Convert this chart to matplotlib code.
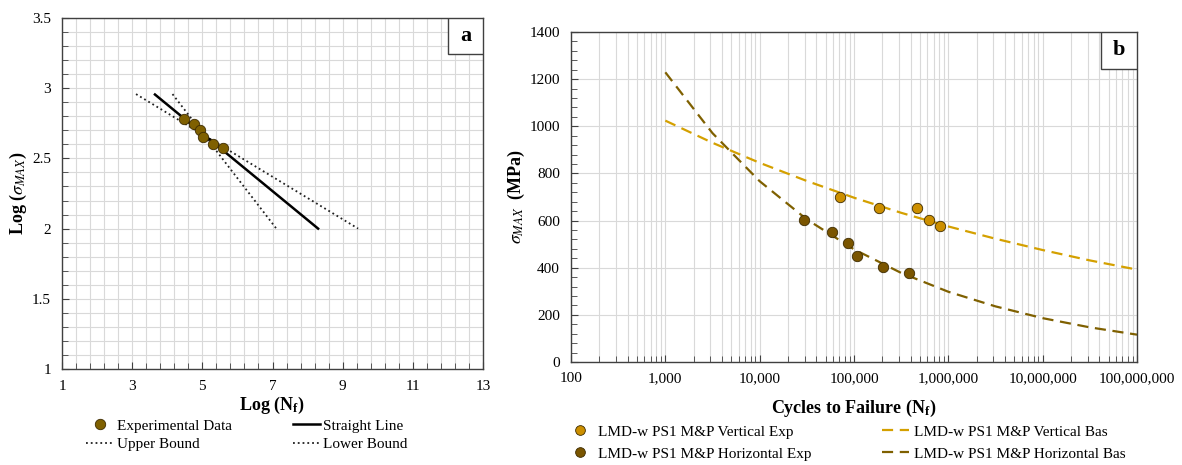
import matplotlib as mpl
mpl.use("Agg")
import matplotlib.pyplot as plt
import matplotlib.ticker as ticker
from matplotlib.lines import Line2D
from matplotlib.patches import Rectangle
import numpy as np

mpl.rcParams['font.family'] = 'Liberation Serif'
mpl.rcParams['mathtext.fontset'] = 'stix'
fontsize = 11

# panel a: log-log data and fitted lines
logN_exp = [4.47, 4.76, 4.94, 5.03, 5.30, 5.58]
logS_exp = [2.779, 2.743, 2.702, 2.653, 2.604, 2.576]
straight_x = [3.65, 8.30]
straight_y = [2.955, 2.00]
upper_x = [3.11, 9.44]
upper_y = [2.958, 2.00]
lower_x = [4.15, 7.11]
lower_y = [2.958, 2.00]

# panel b: S-N data
vert_N = [71100, 185000, 469000, 624000, 809000]
vert_S = [701, 652, 652, 601, 578]
horiz_N = [29500, 58000, 86300, 106600, 201000, 383000]
horiz_S = [601, 553, 504, 450, 402, 376]

# Basquin curves read at half-decades
bas_N = [1e3, 3.16e3, 1e4, 3.16e4, 1e5, 3.16e5, 1e6, 3.16e6, 1e7, 3.16e7, 1e8]
bas_vert = [1024, 930, 845, 768, 697, 633, 575, 523, 475, 431, 392]
bas_horiz = [1229, 971, 767, 605, 478, 378, 298, 236, 186, 147, 116]

c_vert = '#CC8F00'
c_vert_line = '#D4A000'
c_horiz = '#7A5500'
c_horiz_line = '#7F6000'
c_edge = '#3D2B00'
c_grid = '#D9D9D9'

fig = plt.figure(figsize=(11.82, 4.65), dpi=100)
W, H = 1182, 465
ax1 = fig.add_axes([62 / W, 1 - 369 / H, (483 - 62) / W, (369 - 18) / H])
ax2 = fig.add_axes([571 / W, 1 - 362 / H, (1137 - 571) / W, (362 - 32) / H])

# ---- panel a ----
ax = ax1
ax.set_xlim(1, 13)
ax.set_ylim(1, 3.5)
ax.set_xticks([1, 3, 5, 7, 9, 11, 13])
ax.set_yticks([1, 1.5, 2, 2.5, 3, 3.5])
ax.yaxis.set_major_formatter(ticker.FuncFormatter(lambda v, p: ('%g' % v)))
ax.xaxis.set_minor_locator(ticker.MultipleLocator(0.4, offset=0.2))
ax.yaxis.set_minor_locator(ticker.MultipleLocator(0.1))
ax.grid(True, which='both', color=c_grid, lw=0.8)
ax.set_axisbelow(True)
ax.tick_params(which='both', direction='in', top=False, right=False, labelsize=fontsize, color='#404040')
ax.tick_params(which='major', length=5)
ax.tick_params(which='minor', length=4)
ax.tick_params(axis='x', which='major', pad=8)
ax.tick_params(axis='y', which='major', pad=8)
for s in ax.spines.values():
    s.set_color('#404040')
    s.set_linewidth(1.0)

ax.plot(upper_x, upper_y, ls=':', color='#202020', lw=1.3, label='Upper Bound')
ax.plot(lower_x, lower_y, ls=':', color='#202020', lw=1.3, label='Lower Bound')
ax.plot(straight_x, straight_y, ls='-', color='black', lw=1.8, label='Straight Line')
ax.plot(logN_exp, logS_exp, 'o', ms=7.5, color=c_horiz_line, mec=c_edge, mew=0.6,
        label='Experimental Data', zorder=5)

ax.set_xlabel(r'Log (N$_\mathregular{f}$)', fontsize=13, fontweight='bold', labelpad=1)
ax.set_ylabel(r'Log ($\sigma_{MAX}$)', fontsize=13, fontweight='bold', labelpad=2)

ax.add_patch(Rectangle((0.917, 0.897), 0.083, 0.103, transform=ax.transAxes,
                       fill=True, fc='white', ec='#404040', lw=1.0, zorder=6))
ax.text(0.9585, 0.9485, 'a', transform=ax.transAxes, ha='center', va='center',
        fontsize=16, fontweight='bold', zorder=7)

h = [Line2D([], [], ls='none', marker='o', ms=7.5, color=c_horiz_line, mec=c_edge, mew=0.6),
     Line2D([], [], ls=':', color='#202020', lw=1.3),
     Line2D([], [], ls='-', color='black', lw=1.8),
     Line2D([], [], ls=':', color='#202020', lw=1.3)]
lab = ['Experimental Data', 'Upper Bound', 'Straight Line', 'Lower Bound']
ax.legend(h, lab, loc='upper left', bbox_to_anchor=(86 / W, 1 - 419 / H), bbox_transform=fig.transFigure,
          ncol=2, frameon=False, fontsize=11, handlelength=1.8, handletextpad=0.2,
          columnspacing=4.0, labelspacing=0.32, borderaxespad=0, borderpad=0)

# ---- panel b ----
ax = ax2
ax.set_xscale('log')
ax.set_xlim(100, 1e8)
ax.set_ylim(0, 1400)
ax.xaxis.set_major_locator(ticker.LogLocator(base=10, numticks=10))
ax.xaxis.set_minor_locator(ticker.LogLocator(base=10, subs=np.arange(2, 10), numticks=20))
ax.xaxis.set_major_formatter(ticker.FuncFormatter(lambda v, p: '{:,.0f}'.format(v)))
ax.xaxis.set_minor_formatter(ticker.NullFormatter())
ax.yaxis.set_major_locator(ticker.MultipleLocator(200))
ax.yaxis.set_minor_locator(ticker.MultipleLocator(40))
ax.grid(True, which='major', axis='both', color=c_grid, lw=0.8)
ax.grid(True, which='minor', axis='x', color=c_grid, lw=0.8)
ax.set_axisbelow(True)
ax.tick_params(which='both', direction='in', top=False, right=False, labelsize=fontsize, color='#404040')
ax.tick_params(which='major', length=5)
ax.tick_params(which='minor', length=4)
ax.tick_params(axis='x', which='major', pad=14.5)
ax.tick_params(axis='y', which='major', pad=8)
for lbl in ax.get_xticklabels():
    lbl.set_va('baseline')
for s in ax.spines.values():
    s.set_color('#404040')
    s.set_linewidth(1.0)

ax.plot(bas_N, bas_vert, ls=(0, (5, 3)), color=c_vert_line, lw=1.6)
ax.plot(bas_N, bas_horiz, ls=(0, (5, 3)), color=c_horiz_line, lw=1.6)
ax.plot(vert_N, vert_S, 'o', ms=7.5, color=c_vert, mec=c_edge, mew=0.6, zorder=5)
ax.plot(horiz_N, horiz_S, 'o', ms=7.5, color=c_horiz, mec=c_edge, mew=0.6, zorder=5)

ax.set_xlabel(r'Cycles to Failure (N$_\mathregular{f}$)', fontsize=13, fontweight='bold', labelpad=9)
ax.set_ylabel(r'$\sigma_{MAX}$  (MPa)', fontsize=13, fontweight='bold', labelpad=2)

ax.add_patch(Rectangle((0.936, 0.888), 0.064, 0.112, transform=ax.transAxes,
                       fill=True, fc='white', ec='#404040', lw=1.0, zorder=6))
ax.text(0.968, 0.944, 'b', transform=ax.transAxes, ha='center', va='center',
        fontsize=16, fontweight='bold', zorder=7)

h = [Line2D([], [], ls='none', marker='o', ms=7, color=c_vert, mec=c_edge, mew=0.6),
     Line2D([], [], ls='none', marker='o', ms=7, color=c_horiz, mec=c_edge, mew=0.6),
     Line2D([], [], ls=(0, (5, 3)), color=c_vert_line, lw=1.6),
     Line2D([], [], ls=(0, (5, 3)), color=c_horiz_line, lw=1.6)]
lab = ['LMD-w PS1 M&P Vertical Exp', 'LMD-w PS1 M&P Horizontal Exp',
       'LMD-w PS1 M&P Vertical Bas', 'LMD-w PS1 M&P Horizontal Bas']
ax.legend(h, lab, loc='upper left', bbox_to_anchor=(566 / W, 1 - 425 / H), bbox_transform=fig.transFigure,
          ncol=2, frameon=False, fontsize=11, handlelength=1.8, handletextpad=0.3,
          columnspacing=4.6, labelspacing=0.55, borderaxespad=0, borderpad=0)

fig.savefig('out.png', dpi=100)
